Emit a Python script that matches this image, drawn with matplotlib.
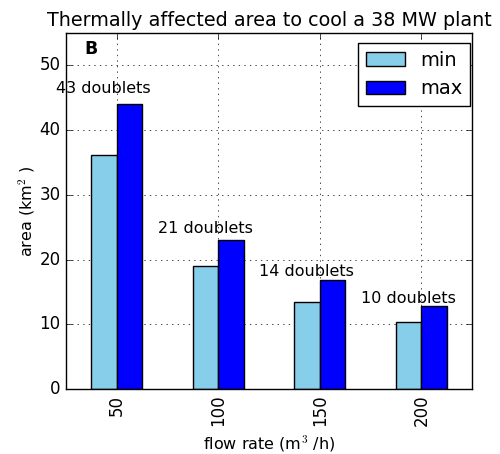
import matplotlib
matplotlib.use("Agg")
import matplotlib.pyplot as plt
import numpy as np

plt.style.use("classic")

flow_rates = ["50", "100", "150", "200"]
area_min = [36.1, 19.0, 13.5, 10.3]
area_max = [44.0, 23.0, 16.8, 12.9]
labels = ["43 doublets", "21 doublets", "14 doublets", "10 doublets"]
label_y = [46.5, 24.8, 18.2, 14.0]

fig = plt.figure(figsize=(5.0, 4.54), dpi=100)
ax = fig.add_axes([0.132, 0.143, 0.812, 0.784])

x = np.arange(len(flow_rates))
w = 0.25
ax.bar(x - w / 2, area_min, w, color="skyblue", edgecolor="black", label="min", linewidth=1)
ax.bar(x + w / 2, area_max, w, color="blue", edgecolor="black", label="max", linewidth=1)

for i, (t, yy) in enumerate(zip(labels, label_y)):
    ax.text(x[i] - 0.13, yy, t, ha="center", va="center", fontsize=11.5)

ax.text(0.062, 0.955, "B", transform=ax.transAxes, fontweight="bold", fontsize=12.5,
        ha="center", va="center")

ax.set_xlim(-0.5, 3.5)
ax.set_ylim(0, 55)
ax.set_yticks([0, 10, 20, 30, 40, 50])
ax.set_xticks(x)
ax.set_xticklabels(flow_rates, rotation=90, fontsize=12)
ax.tick_params(axis="y", labelsize=12)
ax.grid(True)
ax.set_axisbelow(True)
ax.set_ylabel("area (km$^2$ )", fontsize=11.5, labelpad=2)
ax.set_xlabel("flow rate (m$^3$ /h)", fontsize=11.5)
ax.set_title("Thermally affected area to cool a 38 MW plant", fontsize=13.8)
ax.legend(loc="upper right", fontsize=14, fancybox=False,
          bbox_to_anchor=(1.0 + 8 / 406, 1.0))

fig.savefig("out.png", dpi=100)
